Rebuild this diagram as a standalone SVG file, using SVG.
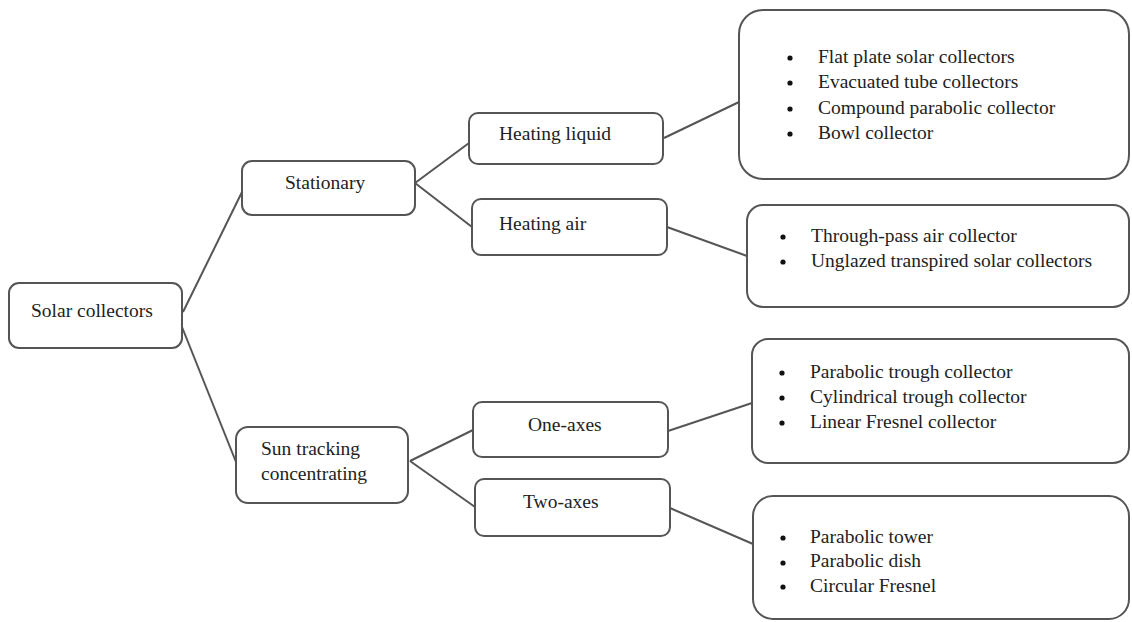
<svg xmlns="http://www.w3.org/2000/svg" width="1132" height="622" viewBox="0 0 1132 622">
<style>
.box{fill:#fff;stroke:#555;stroke-width:2}
.con{stroke:#555;stroke-width:2;fill:none}
text{font-family:"Liberation Serif","Times New Roman",serif;font-size:19.5px;fill:#222}
.dot{fill:#111}
</style>
<rect width="1132" height="622" fill="#fff"/>
<g id="connectors">
<line class="con" x1="183" y1="312" x2="242" y2="192"/>
<line class="con" x1="182" y1="327" x2="236" y2="462"/>
<line class="con" x1="415" y1="183" x2="469" y2="143"/>
<line class="con" x1="415" y1="183" x2="472" y2="227"/>
<line class="con" x1="664" y1="138" x2="739" y2="102"/>
<line class="con" x1="667" y1="227" x2="747" y2="256"/>
<line class="con" x1="410" y1="461" x2="473" y2="430"/>
<line class="con" x1="410" y1="461" x2="475" y2="507"/>
<line class="con" x1="668" y1="431" x2="752" y2="403"/>
<line class="con" x1="670" y1="508" x2="753" y2="544"/>
</g>
<g id="solar-collectors">
<rect class="box" x="9" y="283" width="173" height="65" rx="10"/>
<text x="31" y="317">Solar collectors</text>
</g>
<g id="stationary">
<rect class="box" x="242" y="161" width="173" height="54" rx="10"/>
<text x="285" y="189">Stationary</text>
</g>
<g id="sun-tracking">
<rect class="box" x="236" y="427" width="172" height="76" rx="12"/>
<text x="261" y="455">Sun tracking</text>
<text x="261" y="480">concentrating</text>
</g>
<g id="heating-liquid">
<rect class="box" x="469" y="113" width="194" height="51" rx="9"/>
<text x="499" y="140">Heating liquid</text>
</g>
<g id="heating-air">
<rect class="box" x="472" y="199" width="195" height="56" rx="9"/>
<text x="499" y="230">Heating air</text>
</g>
<g id="one-axes">
<rect class="box" x="473" y="402" width="195" height="55" rx="9"/>
<text x="528" y="431">One-axes</text>
</g>
<g id="two-axes">
<rect class="box" x="475" y="479" width="195" height="57" rx="9"/>
<text x="523" y="508">Two-axes</text>
</g>
<g id="liquid-list">
<rect class="box" x="739" y="10" width="390" height="169" rx="24"/>
<circle class="dot" cx="790" cy="58" r="2.6"/>
<circle class="dot" cx="790" cy="83" r="2.6"/>
<circle class="dot" cx="790" cy="109" r="2.6"/>
<circle class="dot" cx="790" cy="134" r="2.6"/>
<text x="818" y="63">Flat plate solar collectors</text>
<text x="818" y="88">Evacuated tube collectors</text>
<text x="818" y="114">Compound parabolic collector</text>
<text x="818" y="139">Bowl collector</text>
</g>
<g id="air-list">
<rect class="box" x="747" y="205" width="382" height="102" rx="16"/>
<circle class="dot" cx="783" cy="237" r="2.6"/>
<circle class="dot" cx="783" cy="262" r="2.6"/>
<text x="811" y="242">Through-pass air collector</text>
<text x="811" y="267">Unglazed transpired solar collectors</text>
</g>
<g id="one-axes-list">
<rect class="box" x="752" y="339" width="377" height="124" rx="16"/>
<circle class="dot" cx="782" cy="373" r="2.6"/>
<circle class="dot" cx="782" cy="398" r="2.6"/>
<circle class="dot" cx="782" cy="423" r="2.6"/>
<text x="810" y="378">Parabolic trough collector</text>
<text x="810" y="403">Cylindrical trough collector</text>
<text x="810" y="428">Linear Fresnel collector</text>
</g>
<g id="two-axes-list">
<rect class="box" x="753" y="496" width="376" height="123" rx="20"/>
<circle class="dot" cx="783" cy="538" r="2.6"/>
<circle class="dot" cx="783" cy="563" r="2.6"/>
<circle class="dot" cx="783" cy="587" r="2.6"/>
<text x="810" y="543">Parabolic tower</text>
<text x="810" y="567">Parabolic dish</text>
<text x="810" y="592">Circular Fresnel</text>
</g>
</svg>
